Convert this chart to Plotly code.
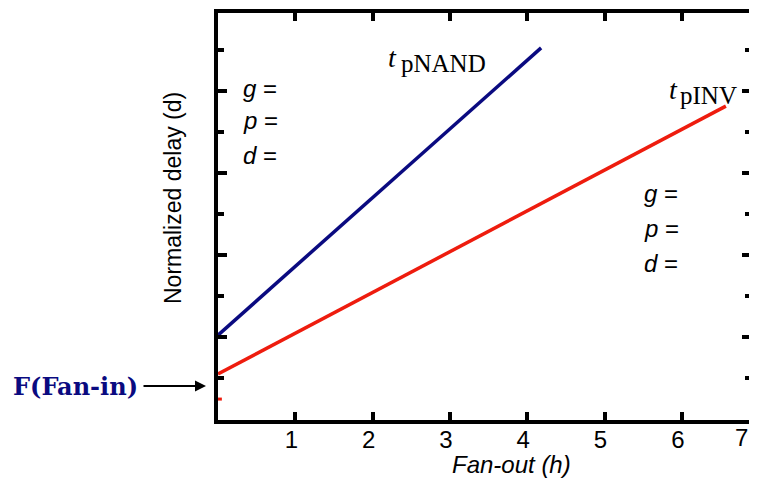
import plotly.graph_objects as go

# ---- data ----
fanout_nand = [0.0, 4.18]
delay_nand = [2.05, 9.05]
fanout_inv = [0.0, 6.57]
delay_inv = [1.1, 7.63]
stray_x = [0.0, 0.05]
stray_y = [0.49, 0.49]
xtick_vals = [1, 2, 3, 4, 5, 6]
xtick_text = ["1", "2", "3", "4", "5", "6"]
last_xtick_label = "7"
ymajor_vals = [2, 4, 6, 8]
yminor_vals = [1, 3, 5, 7, 9]

NAVY = "#0a0a80"
RED = "#ee1c0e"
SANS = "Liberation Sans, Arial, sans-serif"
SERIF = "Liberation Serif, Times New Roman, serif"

OFF = 8  # browser default body margin
VISIBLE_R = 749
PL, PR, PT, PB = 218 - OFF, VISIBLE_R - OFF, 13 - OFF, 420 - OFF
FW, FH = VISIBLE_R - OFF, 481 - OFF
PX_PER_X = 77.3

fig = go.Figure()
fig.add_trace(go.Scatter(x=fanout_nand, y=delay_nand, mode="lines",
                         line=dict(color=NAVY, width=3.5), showlegend=False))
fig.add_trace(go.Scatter(x=fanout_inv, y=delay_inv, mode="lines",
                         line=dict(color=RED, width=3.5), showlegend=False))
fig.add_trace(go.Scatter(x=stray_x, y=stray_y, mode="lines",
                         line=dict(color=RED, width=3), showlegend=False))
fig.add_trace(go.Scatter(x=[None], y=[None], yaxis="y2", showlegend=False))

yr = [-0.02, 9.9]
xr = [0, (PR - PL) / PX_PER_X]
fig.update_layout(
    width=FW, height=FH,
    margin=dict(l=PL, r=FW - PR, t=PT, b=FH - PB),
    plot_bgcolor="white", paper_bgcolor="white",
    xaxis=dict(range=xr, tickvals=xtick_vals, ticktext=xtick_text,
               showline=True, linewidth=4, linecolor="black", mirror="ticks",
               ticks="inside", ticklen=8, tickwidth=4, tickcolor="black",
               ticklabelstandoff=-5, ticklabelshift=-4,
               showgrid=False, zeroline=False,
               tickfont=dict(family=SANS, size=24, color="black")),
    yaxis=dict(range=yr, tickvals=ymajor_vals, showticklabels=False,
               showline=True, linewidth=4, linecolor="black",
               ticks="inside", ticklen=9, tickwidth=4, tickcolor="black",
               minor=dict(tickvals=yminor_vals, ticks="inside", ticklen=6,
                          tickwidth=4, tickcolor="black", showgrid=False),
               showgrid=False, zeroline=False),
    yaxis2=dict(range=yr, overlaying="y", side="right", tickvals=ymajor_vals,
                showticklabels=False, showline=False,
                ticks="inside", ticklen=7, tickwidth=4, tickcolor="black",
                minor=dict(tickvals=yminor_vals, ticks="inside", ticklen=4,
                           tickwidth=4, tickcolor="black", showgrid=False),
                showgrid=False, zeroline=False),
)

# annotations in reference-image pixel coordinates (center / middle)
ann = []
ann.append(dict(text="<i>Fan-out (h)</i>", x=511, y=464,
                font=dict(family=SANS, size=24, color="black")))
ann.append(dict(text=last_xtick_label, x=741, y=437,
                font=dict(family=SANS, size=24, color="black")))
ann.append(dict(text="Normalized delay (d)", x=173, y=198, textangle=-90,
                font=dict(family=SANS, size=23, color="black")))
ann.append(dict(text="<b>F(Fan-in)</b>", x=75, y=386,
                font=dict(family="DejaVu Serif, serif", size=24, color=NAVY)))
for txt, yy in [("g", 88), ("p", 121), ("d", 155)]:
    ann.append(dict(text=f"<i>{txt}</i> =", x=241, y=yy, xanchor="left",
                    font=dict(family=SANS, size=24, color="black")))
for txt, yy in [("g", 194), ("p", 228), ("d", 263)]:
    ann.append(dict(text=f"<i>{txt}</i> =", x=642, y=yy, xanchor="left",
                    font=dict(family=SANS, size=24, color="black")))
ann.append(dict(text="<i>t</i>", x=386, y=58, xanchor="left",
                font=dict(family=SERIF, size=28, color="black")))
ann.append(dict(text="pNAND", x=399, y=64, xanchor="left",
                font=dict(family=SERIF, size=25, color="black")))
ann.append(dict(text="<i>t</i>", x=667, y=89, xanchor="left",
                font=dict(family=SERIF, size=28, color="black")))
ann.append(dict(text="pINV", x=678, y=95, xanchor="left",
                font=dict(family=SERIF, size=25, color="black")))

W, H = PR - PL, PB - PT
out = []
for a in ann:
    a = dict(a)
    a.setdefault("xanchor", "center")
    a["yanchor"] = "middle"
    a["showarrow"] = False
    a["xref"] = "paper"
    a["yref"] = "paper"
    a["x"] = (a["x"] - OFF - PL) / W
    a["y"] = (PB - (a["y"] - OFF)) / H
    out.append(a)
out.append(dict(x=(206 - OFF - PL) / W, y=(PB - (386 - OFF)) / H, xref="paper", yref="paper",
                ax=-64, ay=0, axref="pixel", ayref="pixel", text="",
                showarrow=True, arrowhead=2, arrowsize=1.1, arrowwidth=2, arrowcolor="black"))
fig.update_layout(annotations=out)

fig.write_html("out.html")
